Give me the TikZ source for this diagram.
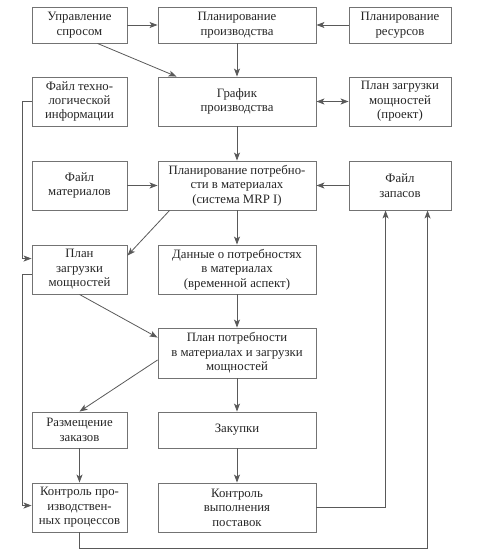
\documentclass[tikz,border=0pt]{standalone}
\usepackage{fontspec}
\setmainfont{Liberation Serif}
\usetikzlibrary{arrows.meta,calc}
\begin{document}
\begin{tikzpicture}[x=1pt,y=-1pt,
  box/.style={draw=black!55, line width=0.9pt, rectangle, inner sep=0pt, align=center,
    text=black!85, font=\fontsize{12.8}{14.4}\selectfont},
  lbox/.style={box, minimum width=95pt},
  mbox/.style={box, minimum width=158pt},
  rbox/.style={box, minimum width=102pt},
  tall/.style={minimum height=49pt},
  short/.style={minimum height=36pt},
  conn/.style={draw=black!65, line width=0.8pt},
  tip/.tip={Stealth[length=8pt,width=6pt,inset=2pt]},
  arr/.style={conn, -tip},
  darr/.style={conn, tip-tip}
]
\useasboundingbox (0,0) rectangle (479,559);
% row 1
\node[lbox,short] (upr) at (79.5,25) {Управление\\спросом};
\node[mbox,short] (plpr) at (237,25) {Планирование\\производства};
\node[rbox,short] (res) at (400,25) {Планирование\\ресурсов};
% row 2
\node[lbox,tall] (tech) at (79.5,101.5) {Файл техно-\\логической\\информации};
\node[mbox,tall] (graf) at (237,101.5) {График\\производства};
\node[rbox,tall] (proj) at (400,101.5) {План загрузки\\мощностей\\(проект)};
% row 3
\node[lbox,tall] (matf) at (79.5,185.5) {Файл\\материалов};
\node[mbox,tall] (mrp) at (237,185.5) {Планирование потребно-\\сти в материалах\\(система MRP I)};
\node[rbox,tall] (zap) at (400,185.5) {Файл\\запасов};
% row 4
\node[lbox,tall] (zagr) at (79.5,269.5) {План\\загрузки\\мощностей};
\node[mbox,tall] (dan) at (237,269.5) {Данные о потребностях\\в материалах\\(временной аспект)};
% row 5
\node[mbox,minimum height=50pt] (plan) at (237,353) {План потребности\\в материалах и загрузки\\мощностей};
% row 6
\node[lbox,short] (razm) at (79.5,430) {Размещение\\заказов};
\node[mbox,short] (zak) at (237,430) {Закупки};
% row 7
\node[lbox,tall] (kpr) at (79.5,507.5) {Контроль про-\\изводствен-\\ных процессов};
\node[mbox,tall] (kpost) at (237,507.5) {Контроль\\выполнения\\поставок};

% connectors
\draw[arr] (upr.east) -- (plpr.west);
\draw[arr] (res.west) -- (plpr.east);
\draw[arr] ($(upr.south)+(18,0)$) -- ($(graf.north west)+(19,0)$);
\draw[arr] (plpr.south) -- (graf.north);
\draw[darr] (graf.east) -- (proj.west);
\draw[arr] (graf.south) -- (mrp.north);
\draw[arr] (matf.east) -- (mrp.west);
\draw[arr] (zap.west) -- (mrp.east);
\draw[arr] (tech.west) -- ++(-9,0) |- ($(zagr.north west)+(0,14)$);
\draw[arr] ($(mrp.south west)+(12,0)$) -- ($(zagr.north east)+(0,11)$);
\draw[arr] (mrp.south) -- (dan.north);
\draw[arr] (zagr.south) -- ($(plan.north west)+(0,10)$);
\draw[arr] (dan.south) -- (plan.north);
\draw[arr] ($(zagr.north west)+(0,30)$) -- ++(-9,0) |- ($(kpr.north west)+(0,23)$);
\draw[arr] ($(plan.west)+(0,7)$) -- (razm.north);
\draw[arr] (plan.south) -- (zak.north);
\draw[arr] (razm.south) -- (kpr.north);
\draw[arr] (zak.south) -- (kpost.north);
\draw[arr] (kpost.east) -| ($(zap.south west)+(37,0)$);
\draw[arr] (kpr.south) -- ++(0,16) -| ($(zap.south west)+(79,0)$);
\end{tikzpicture}
\end{document}
